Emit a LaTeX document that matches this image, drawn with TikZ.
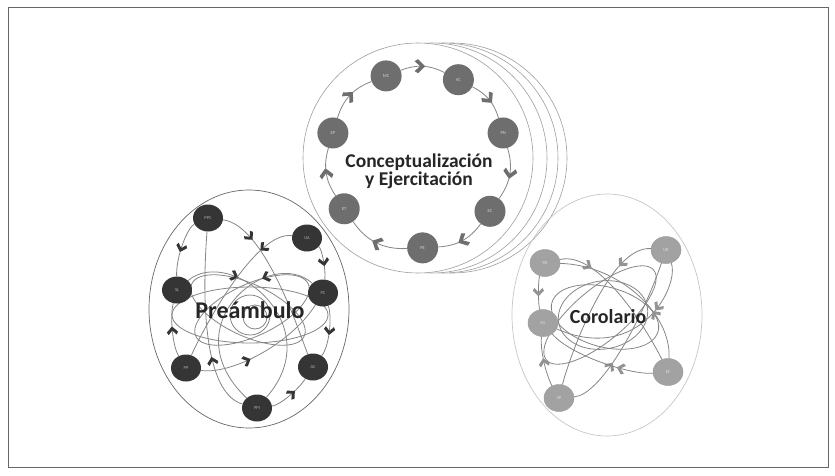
\documentclass[tikz,border=0pt]{standalone}
\usepackage{fontspec}
\setmainfont{Carlito}
\usetikzlibrary{decorations.markings,shapes.geometric}

\definecolor{ringgray}{HTML}{6E6E6E}
\definecolor{predark}{HTML}{353535}
\definecolor{corgray}{HTML}{A2A2A2}
\definecolor{linegray}{HTML}{858585}
\definecolor{titlegray}{HTML}{262626}

% thick chevron drawn along a path
\newcommand{\chevron}[1]{\fill[#1] (4.5pt,0pt) -- (-2.5pt,7pt) -- (-6pt,5pt) -- (-0.5pt,0pt) -- (-6pt,-5pt) -- (-2.5pt,-7pt) -- cycle;}

\begin{document}
\begin{tikzpicture}[x=1pt, y=1pt,
    cnode/.style={circle, fill=ringgray, minimum size=31pt, inner sep=0pt, font=\fontsize{4.5}{5}\selectfont, text=gray!30},
    pnode/.style={ellipse, fill=predark, minimum width=30pt, minimum height=27pt, inner sep=0pt, font=\fontsize{4.5}{5}\selectfont, text=gray!60},
    knode/.style={ellipse, fill=corgray, draw=gray!75, line width=0.5pt, minimum width=30pt, minimum height=27pt, inner sep=0pt, font=\fontsize{4.5}{5}\selectfont, text=gray!25},
    shell/.style={draw=gray!75, fill=white, line width=0.6pt},
    link/.style={draw=linegray, line width=0.8pt},
    cmark/.style={postaction={decorate}, decoration={markings, mark=at position #1 with {\chevron{ringgray}}}},
    pmark/.style={postaction={decorate}, decoration={markings, mark=at position #1 with {\begin{scope}[scale=0.8]\chevron{predark}\end{scope}}}},
    kmark/.style={postaction={decorate}, decoration={markings, mark=at position #1 with {\begin{scope}[scale=0.8]\chevron{gray!85}\end{scope}}}},
    cmark/.default=0.5, pmark/.default=0.5, kmark/.default=0.5,
    title/.style={font=\bfseries\fontsize{19.5}{22}\selectfont, text=titlegray, align=center}
]
\useasboundingbox (0,0) rectangle (835,475);
\draw[gray!80!black, line width=0.8pt] (8.5,7.5) rectangle (828,467.5);

% Conceptualizacion y Ejercitacion
\draw[shell] (452,317) circle (115);
\draw[shell] (443,317) circle (115);
\draw[shell] (432,317) circle (115);
\draw[shell] (418,317) circle (115);

\node[cnode] (MC) at ([shift={(111:89)}]418,316) {MC};
\node[cnode] (VC) at ([shift={(63:89)}]418,316) {VC};
\node[cnode] (PN) at ([shift={(17:89)}]418,316) {PN};
\node[cnode] (EC) at ([shift={(-36:89)}]418,316) {EC};
\node[cnode] (PE) at ([shift={(-87:89)}]418,316) {PE};
\node[cnode] (ET) at ([shift={(-146:89)}]418,316) {ET};
\node[cnode] (EP) at ([shift={(163:89)}]418,316) {EP};

\draw[link, cmark=0.45] (MC) to[bend left=24] (VC);
\draw[link, cmark] (VC) to[bend left=23] (PN);
\draw[link, cmark] (PN) to[bend left=26] (EC);
\draw[link, cmark] (EC) to[bend left=25] (PE);
\draw[link, cmark] (PE) to[bend left=29] (ET);
\draw[link, cmark] (ET) to[bend left=25] (EP);
\draw[link, cmark] (EP) to[bend left=26] (MC);

\node[title] (concepto) at (419,304) {Conceptualización\\[-4pt]y Ejercitación};

% Preambulo
\draw[draw=gray!80!black, line width=0.7pt] (249,166) ellipse [x radius=100, y radius=119];

\draw[link] (250,160) ellipse [x radius=78, y radius=28];
\draw[link] (252,165) ellipse [x radius=62, y radius=26, rotate=25];
\draw[link] (248,165) ellipse [x radius=62, y radius=26, rotate=-25];
\draw[link] (250,160) circle (20);
\draw[link] (255,158) circle (12);

\node[pnode] (PPC) at (208,257) {PPC};
\node[pnode] (UA) at (307,237) {UA};
\node[pnode] (SL) at (177,185) {SL};
\node[pnode] (PC) at (323,182) {PC};
\node[pnode] (PP) at (186,107) {PP};
\node[pnode] (AC) at (313,108) {AC};
\node[pnode] (PPI) at (257,67) {PPI};

\draw[link, pmark] (PPC) .. controls (188,248) and (176,220) .. (SL);
\draw[link, pmark] (UA) .. controls (322,226) and (326,205) .. (PC);
\draw[link, pmark] (PP) .. controls (172,130) and (170,160) .. (SL);
\draw[link, pmark] (PC) .. controls (332,160) and (330,130) .. (AC);
\draw[link, pmark=0.55] (PPI) .. controls (280,70) and (298,85) .. (AC);
\draw[link, pmark=0.3] (PPI) .. controls (210,80) and (200,150) .. (PPC);
\draw[link, pmark=0.35] (PP) .. controls (230,100) and (290,130) .. (PC);
\draw[link, pmark=0.25] (SL) .. controls (230,230) and (330,150) .. (PPI);
\draw[link, pmark=0.25] (PC) .. controls (270,230) and (170,150) .. (PPI);
\draw[link, pmark=0.2] (PPC) .. controls (265,250) and (300,140) .. (AC);
\draw[link, pmark=0.2] (UA) .. controls (255,245) and (200,140) .. (PP);

\node[title, font=\bfseries\fontsize{24}{27}\selectfont] (pream) at (250,165) {Preámbulo};

% Corolario
\draw[draw=gray!45, line width=0.7pt] (607,160) ellipse [x radius=95, y radius=121];

\draw[link] (600,160) ellipse [x radius=70, y radius=26, rotate=40];
\draw[link] (605,158) ellipse [x radius=55, y radius=30, rotate=-15];
\draw[link] (603,160) ellipse [x radius=45, y radius=34, rotate=10];

\node[knode] (RR) at (545,212) {RR};
\node[knode] (UR) at (666,225) {UR};
\node[knode] (EG) at (543,152) {EG};
\node[knode] (EF) at (668,103) {EF};
\node[knode] (SP) at (559,77) {SP};

\draw[link, kmark] (RR) .. controls (538,195) and (538,172) .. (EG);
\draw[link, kmark] (SP) .. controls (546,100) and (540,125) .. (EG);
\draw[link, kmark=0.2] (RR) .. controls (600,225) and (650,140) .. (EF);
\draw[link, kmark=0.2] (UR) .. controls (610,230) and (570,120) .. (SP);
\draw[link, kmark=0.3] (UR) .. controls (680,190) and (640,110) .. (EG);
\draw[link, kmark=0.3] (EF) .. controls (672,160) and (620,210) .. (RR);
\draw[link, kmark=0.3] (SP) .. controls (600,80) and (640,150) .. (UR);
\draw[link, kmark=0.3] (EF) .. controls (630,100) and (570,120) .. (EG);

\node[title, font=\bfseries\fontsize{20}{23}\selectfont] (corol) at (608,158) {Corolario};
\end{tikzpicture}
\end{document}
